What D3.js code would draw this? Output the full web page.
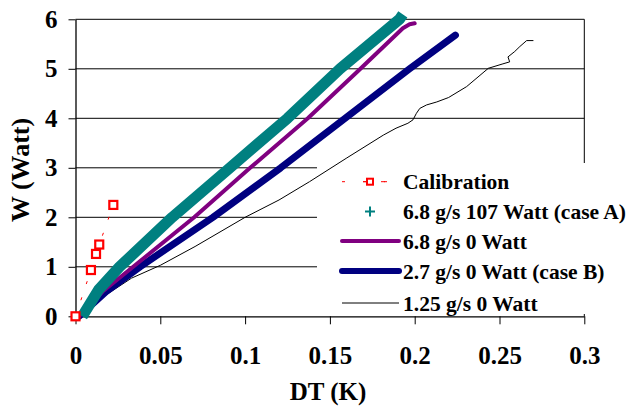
<!DOCTYPE html>
<html><head><meta charset="utf-8"><script src="https://cdn.jsdelivr.net/npm/d3@7"></script></head>
<body style="margin:0"><svg id="c" width="629" height="410"></svg>
<script>
const xTicks = [0, 0.05, 0.1, 0.15, 0.2, 0.25, 0.3];
const yTicks = [0, 1, 2, 3, 4, 5, 6];
const seriesNames = ["Calibration", "6.8 g/s 107 Watt (case A)", "6.8 g/s 0 Watt", "2.7 g/s 0 Watt (case B)", "1.25 g/s 0 Watt"];

const calibDT = [0, 0.0091, 0.0121, 0.014, 0.0223];
const calibW  = [0, 0.935, 1.26, 1.45, 2.25];

const caseADT = [0.004, 0.0135, 0.026, 0.057, 0.091, 0.125, 0.156, 0.191, 0.193];
const caseAW  = [0, 0.53, 1, 2, 3, 4, 5, 6, 6.1];

const s68DT = [0.002, 0.016, 0.034, 0.070, 0.103, 0.137, 0.168, 0.193, 0.197, 0.200];
const s68W  = [0, 0.5, 1, 2, 3, 4, 5, 5.82, 5.9, 5.92];

const caseBDT = [0.002, 0.018, 0.038, 0.081, 0.121, 0.159, 0.197, 0.224];
const caseBW  = [0, 0.5, 1, 2, 3, 4, 5, 5.68];

const s125DT = [0.002, 0.0135, 0.033, 0.050, 0.0705, 0.100, 0.120, 0.138, 0.160, 0.1815, 0.189, 0.196, 0.199, 0.201, 0.203, 0.207, 0.213, 0.220, 0.2306, 0.2434, 0.252, 0.256, 0.255, 0.259, 0.262, 0.266, 0.270];
const s125W  = [0, 0.33, 0.77, 1.03, 1.41, 2.0, 2.35, 2.72, 3.2, 3.66, 3.8, 3.9, 3.97, 4.1, 4.2, 4.27, 4.33, 4.42, 4.64, 5.01, 5.1, 5.14, 5.24, 5.35, 5.45, 5.57, 5.57];

const fam = () => "'Liberation Serif', 'Times New Roman', Tinos, monospace";
const svg = d3.select("#c");
const x = d3.scaleLinear().domain([0, 0.3]).range([75.5, 584.3]);
const y = d3.scaleLinear().domain([0, 6]).range([316.3, 19.3]);

svg.append("g").selectAll("line").data(yTicks.filter(d => d > 0)).join("line")
  .attr("x1", x(0)).attr("x2", x(0.3)).attr("y1", d => y(d)).attr("y2", d => y(d))
  .attr("stroke", "#000").attr("stroke-width", 1);
svg.append("line").attr("x1", x(0.3)).attr("x2", x(0.3)).attr("y1", y(6)).attr("y2", y(0))
  .attr("stroke", "#000").attr("stroke-width", 1);

// legend box (white)
svg.append("rect").attr("x", 317).attr("y", 163).attr("width", 312).attr("height", 151).attr("fill", "#fff");

// axes
const yAxis = d3.axisLeft(y).tickValues(yTicks).tickFormat(d3.format("d")).tickSize(7).tickSizeOuter(0).tickPadding(11);
const gy = svg.append("g").attr("transform", `translate(${x(0)},0)`).call(yAxis);
const xAxis = d3.axisBottom(x).tickValues(xTicks).tickFormat(d => d === 0 ? "0" : String(d)).tickSize(8).tickSizeOuter(0).tickPadding(22);
const gx = svg.append("g").attr("transform", `translate(0,${y(0)})`).call(xAxis);
[gx, gy].forEach(g => {
  g.attr("font-family", fam).attr("font-size", 25).attr("font-weight", "bold");
  g.select(".domain").attr("stroke", "#000").attr("stroke-width", 1.3);
  g.selectAll(".tick line").attr("stroke", "#000").attr("stroke-width", 1);
  g.selectAll(".tick text").attr("fill", "#000").attr("font-family", fam).attr("font-weight", "bold").attr("font-size", 25);
});

svg.selectAll("text.title").data([["DT (K)", "translate(328,400)", 25], ["W (Watt)", "translate(29,170) rotate(-90)", 26]])
  .join("text").attr("class", "title").attr("transform", d => d[1]).attr("text-anchor", "middle")
  .attr("font-family", fam).attr("font-weight", "bold").attr("font-size", d => d[2]).text(d => d[0]);

const line = d3.line().x(d => x(d[0])).y(d => y(d[1]));
const zip = (a, b) => a.map((v, i) => [v, b[i]]);

svg.append("path").datum(zip(s125DT, s125W)).attr("d", line).attr("fill", "none")
  .attr("stroke", "#000").attr("stroke-width", 1);
svg.append("path").datum(zip(caseBDT, caseBW)).attr("d", line).attr("fill", "none")
  .attr("stroke", "#000080").attr("stroke-width", 7).attr("stroke-linecap", "round").attr("stroke-linejoin", "round");
svg.append("path").datum(zip(s68DT, s68W)).attr("d", line).attr("fill", "none")
  .attr("stroke", "#800080").attr("stroke-width", 4).attr("stroke-linecap", "round").attr("stroke-linejoin", "round");
svg.append("path").datum(zip(caseADT, caseAW)).attr("d", line).attr("fill", "none")
  .attr("stroke", "#008080").attr("stroke-width", 11).attr("stroke-linejoin", "round");

svg.append("path").datum(zip(calibDT, calibW)).attr("d", line).attr("fill", "none")
  .attr("stroke", "#ff0000").attr("stroke-width", 1).attr("stroke-dasharray", "3,14");
svg.append("g").selectAll("rect").data(zip(calibDT, calibW)).join("rect")
  .attr("x", d => x(d[0]) - 4).attr("y", d => y(d[1]) - 4).attr("width", 8).attr("height", 8)
  .attr("fill", "#fff").attr("stroke", "#ff0000").attr("stroke-width", 2.2);

// legend
const lx0 = 342, lx1 = 399, lxm = 370, ltx = 403;
const ly = [181.7, 211.5, 241, 271, 303];
svg.append("line").attr("x1", lx0).attr("x2", lx1).attr("y1", ly[0]).attr("y2", ly[0])
  .attr("stroke", "#ff0000").attr("stroke-width", 1).attr("stroke-dasharray", "3,18");
svg.append("line").attr("x1", 363).attr("x2", 387).attr("y1", ly[0]).attr("y2", ly[0])
  .attr("stroke", "#ff0000").attr("stroke-width", 1).attr("stroke-dasharray", "4,14");
svg.append("rect").attr("x", lxm - 3).attr("y", ly[0] - 3).attr("width", 6).attr("height", 6)
  .attr("fill", "#fff").attr("stroke", "#ff0000").attr("stroke-width", 2);
svg.append("path").attr("d", `M${lxm - 5},${ly[1]}H${lxm + 5}M${lxm},${ly[1] - 5}V${ly[1] + 5}`)
  .attr("stroke", "#008080").attr("stroke-width", 2);
svg.append("line").attr("x1", lx0).attr("x2", lx1).attr("y1", ly[2]).attr("y2", ly[2])
  .attr("stroke", "#800080").attr("stroke-width", 4).attr("stroke-linecap", "round");
svg.append("line").attr("x1", lx0).attr("x2", lx1).attr("y1", ly[3]).attr("y2", ly[3])
  .attr("stroke", "#000080").attr("stroke-width", 6).attr("stroke-linecap", "round");
svg.append("line").attr("x1", lx0).attr("x2", lx1).attr("y1", ly[4]).attr("y2", ly[4])
  .attr("stroke", "#000").attr("stroke-width", 1);
svg.selectAll("text.leg").data(seriesNames).join("text").attr("class", "leg")
  .attr("x", ltx).attr("y", (d, i) => ly[i] + 7.5)
  .attr("font-family", fam).attr("font-weight", "bold")
  .attr("font-size", 21.5).attr("fill", "#000").text(d => d);
</script></body></html>
